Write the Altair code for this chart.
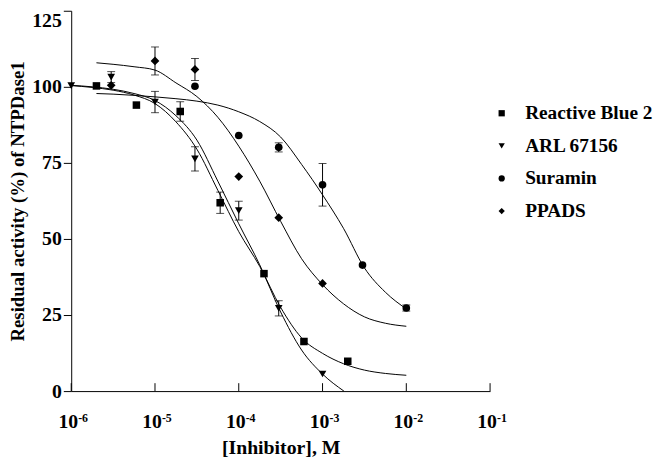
import altair as alt
import pandas as pd

FONT = "Liberation Serif"

SERIES = ["Reactive Blue 2", "ARL 67156", "Suramin", "PPADS"]
SHAPES = ["square", "triangle-down", "circle", "diamond"]
SIZES = [58, 60, 60, 78]

# ---- measured points (concentration M, residual activity %, error) ----
rb2_conc = [2e-6, 6e-6, 2e-5, 6e-5, 2e-4, 6e-4, 2e-3]
rb2_resp = [100.3, 94.0, 91.9, 61.9, 38.6, 16.3, 9.8]
rb2_err = [0, 0, 3.2, 3.5, 0, 0, 0]

arl_conc = [1e-6, 3e-6, 1e-5, 3e-5, 1e-4, 3e-4, 1e-3]
arl_resp = [100.4, 103.2, 95.0, 76.3, 59.3, 27.2, 5.6]
arl_err = [0, 1.8, 3.5, 4.0, 3.1, 2.5, 0]

sur_conc = [3e-5, 1e-4, 3e-4, 1e-3, 3e-3, 1e-2]
sur_resp = [100.2, 84.0, 80.1, 67.8, 41.4, 27.3]
sur_err = [0, 0, 1.5, 7.0, 0, 1.0]

ppa_conc = [3e-6, 1e-5, 3e-5, 1e-4, 3e-4, 1e-3]
ppa_resp = [100.5, 108.5, 105.7, 70.5, 57.0, 35.4]
ppa_err = [0, 4.6, 3.6, 0, 0, 0]

# ---- fitted curves (log10 concentration, response) ----
rb2_fit_log = [-6.0, -5.75, -5.5, -5.25, -5.0, -4.75, -4.5, -4.25, -4.0, -3.75, -3.5, -3.25, -3.0, -2.75, -2.5, -2.25, -2.0]
rb2_fit = [100.4, 99.8, 98.9, 97.3, 94.5, 88.5, 79.5, 66.0, 52.4, 41.0, 27.5, 17.5, 12.4, 9.0, 6.9, 5.8, 5.2]

arl_fit_log = [-6.0, -5.75, -5.5, -5.25, -5.0, -4.75, -4.5, -4.25, -4.0, -3.75, -3.5, -3.25, -3.0, -2.745]
arl_fit = [100.5, 100.0, 99.2, 97.8, 95.5, 90.5, 82.5, 69.0, 55.0, 41.5, 26.0, 13.5, 5.6, 0.0]

sur_fit_log = [-5.699, -5.5, -5.25, -5.0, -4.75, -4.5, -4.25, -4.0, -3.75, -3.5, -3.25, -3.0, -2.75, -2.5, -2.25, -2.0]
sur_fit = [97.8, 97.6, 97.2, 96.7, 96.1, 95.3, 94.0, 91.8, 88.6, 83.5, 74.5, 64.5, 53.5, 40.5, 32.5, 27.0]

ppa_fit_log = [-5.699, -5.5, -5.25, -5.0, -4.75, -4.5, -4.25, -4.0, -3.75, -3.5, -3.25, -3.0, -2.75, -2.5, -2.25, -2.0]
ppa_fit = [107.9, 107.4, 106.6, 105.5, 101.3, 96.8, 90.0, 80.5, 69.0, 55.8, 43.5, 35.0, 28.7, 24.4, 22.3, 21.3]

# ---- x tick labels ----
tick_vals = [1e-6, 1e-5, 1e-4, 1e-3, 1e-2, 1e-1]
tick_base = ["10", "10", "10", "10", "10", "10"]
tick_exp = ["-6", "-5", "-4", "-3", "-2", "-1"]
y_ticks = [0, 25, 50, 75, 100, 125]

# ---- tables ----
pt_rows = []
for k, (name, c, r, e) in enumerate([
    (SERIES[0], rb2_conc, rb2_resp, rb2_err),
    (SERIES[1], arl_conc, arl_resp, arl_err),
    (SERIES[2], sur_conc, sur_resp, sur_err),
    (SERIES[3], ppa_conc, ppa_resp, ppa_err),
]):
    for ci, ri, ei in zip(c, r, e):
        pt_rows.append({"series": name, "conc": ci, "resp": ri, "err": ei,
                        "lo": ri - ei, "hi": ri + ei, "msize": SIZES[k]})
points = pd.DataFrame(pt_rows)
errs = points[points["err"] > 0]

fit_rows = []
for name, lg, r in [
    (SERIES[0], rb2_fit_log, rb2_fit),
    (SERIES[1], arl_fit_log, arl_fit),
    (SERIES[2], sur_fit_log, sur_fit),
    (SERIES[3], ppa_fit_log, ppa_fit),
]:
    for i, (li, ri) in enumerate(zip(lg, r)):
        fit_rows.append({"series": name, "conc": 10 ** li, "resp": ri, "order": i})
fits = pd.DataFrame(fit_rows)

ticks = pd.DataFrame({"conc": tick_vals, "base": tick_base, "exp": tick_exp})

# ---- scales / axes ----
xscale = alt.Scale(type="log", domain=[1e-6, 1e-1], nice=False)
yscale = alt.Scale(domain=[0, 125], nice=False, zero=True)

xaxis = alt.Axis(title="[Inhibitor], M", labels=False, ticks=False, grid=False,
                 domainColor="black", domainWidth=1,
                 titleFont=FONT, titleFontSize=20, titleFontWeight="bold",
                 titleColor="black", titlePadding=47)
yaxis = alt.Axis(title="Residual activity (%) of NTPDase1", values=y_ticks, grid=False,
                 domainColor="black", domainWidth=1, tickColor="black", tickSize=8,
                 tickWidth=1, labelFont=FONT, labelFontSize=20, labelFontWeight="bold",
                 labelColor="black", labelPadding=2,
                 labelBaseline={"condition": {"test": "datum.value == 125", "value": "top"},
                                "value": "middle"},
                 titleFont=FONT, titleFontSize=19, titleFontWeight="bold",
                 titleColor="black", titlePadding=4)


def X(field):
    return alt.X(f"{field}:Q", scale=xscale, axis=xaxis)


def Y(field):
    return alt.Y(f"{field}:Q", scale=yscale, axis=yaxis)


curves = alt.Chart(fits).mark_line(color="black", strokeWidth=1, interpolate="monotone").encode(
    x=X("conc"), y=Y("resp"), detail="series:N", order="order:Q"
)

err_rules = alt.Chart(errs).mark_rule(color="black", strokeWidth=1).encode(
    x=X("conc"), y=Y("lo"), y2="hi:Q"
)
caps_lo = alt.Chart(errs).mark_tick(orient="horizontal", size=8, thickness=1, color="black").encode(
    x=X("conc"), y=Y("lo")
)
caps_hi = alt.Chart(errs).mark_tick(orient="horizontal", size=8, thickness=1, color="black").encode(
    x=X("conc"), y=Y("hi")
)

pts = alt.Chart(points).mark_point(filled=True, opacity=1, color="black").encode(
    x=X("conc"),
    y=Y("resp"),
    size=alt.Size("msize:Q", scale=None, legend=None),
    shape=alt.Shape("series:N", scale=alt.Scale(domain=SERIES, range=SHAPES),
                    legend=alt.Legend(title=None, orient="none", legendX=426, legendY=94,
                                      labelFont=FONT, labelFontSize=19.5, labelFontWeight="bold",
                                      labelColor="black", labelLimit=0, symbolSize=40,
                                      symbolFillColor="black", symbolStrokeColor="black",
                                      symbolStrokeWidth=0, labelOffset=14, rowPadding=12,
                                      padding=0)),
)

xtick_marks = alt.Chart(ticks).mark_rule(color="black", strokeWidth=1).encode(
    x=X("conc"), y=alt.value(385), y2=alt.value(377)
)
xlab_base = alt.Chart(ticks).mark_text(font=FONT, fontSize=20, fontWeight="bold", align="right",
                                       baseline="alphabetic", dx=7, color="black").encode(
    x=X("conc"), y=alt.value(422), text="base:N"
)
xlab_exp = alt.Chart(ticks).mark_text(font=FONT, fontSize=12, fontWeight="bold", align="left",
                                      baseline="alphabetic", dx=7, color="black").encode(
    x=X("conc"), y=alt.value(416), text="exp:N"
)

chart = alt.layer(
    curves, err_rules, caps_lo, caps_hi, pts, xtick_marks, xlab_base, xlab_exp
).properties(
    width=424, height=385,
    autosize=alt.AutoSizeParams(type="none"),
    padding={"left": 64, "top": 0, "right": 171, "bottom": 70},
    background="white",
).configure_view(stroke=None)

chart.save("out.html", embed_options={"renderer": "svg", "actions": False})
